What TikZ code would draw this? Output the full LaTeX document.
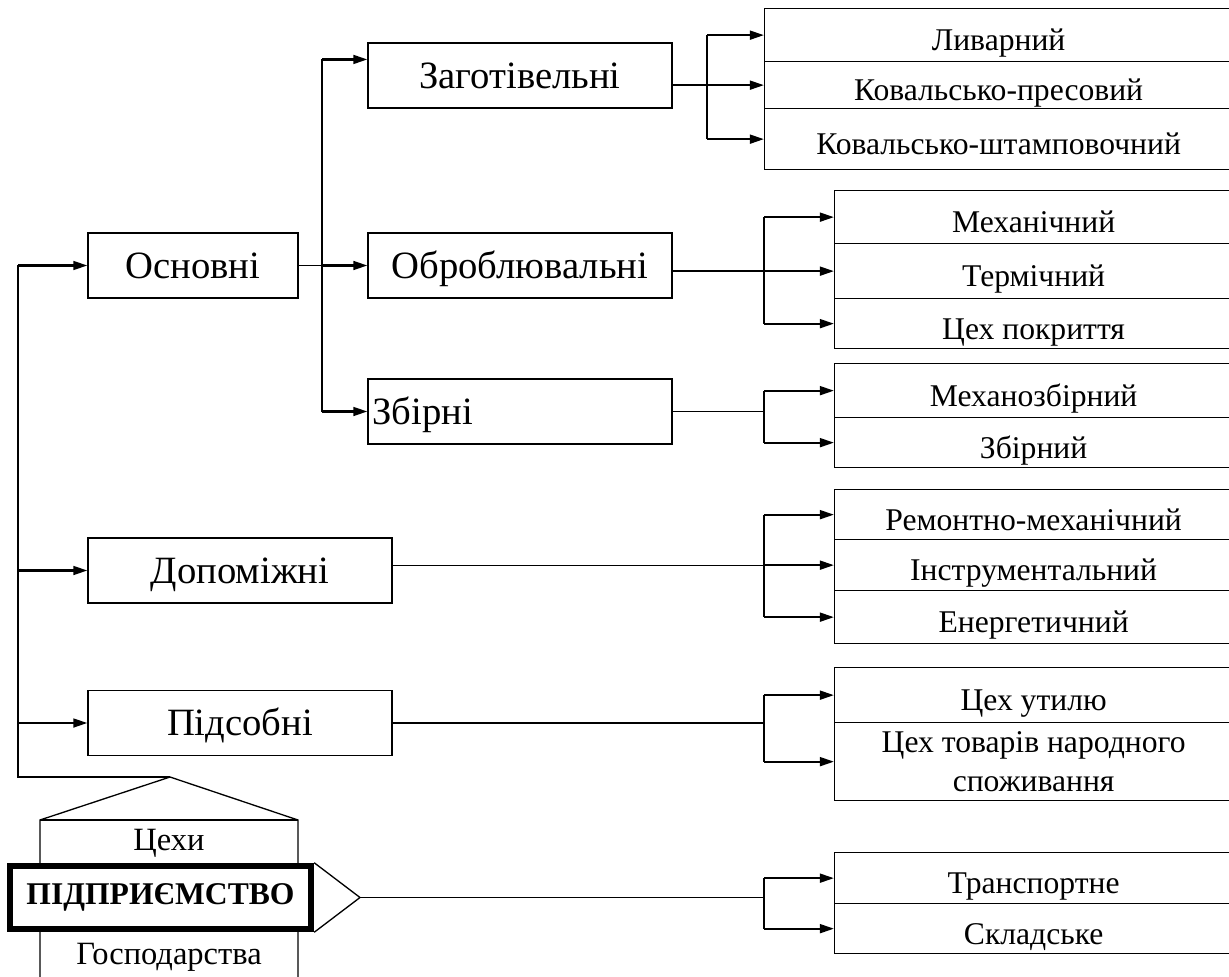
\documentclass[tikz,border=0pt]{standalone}
\usepackage{fontspec}
\setmainfont{Liberation Serif}
\usetikzlibrary{arrows.meta}

\newcommand{\bigfont}{\fontsize{22}{26}\selectfont}
\newcommand{\midfont}{\fontsize{18.5}{22}\selectfont}
\newcommand{\smallfont}{\fontsize{18}{22.5}\selectfont}

\begin{document}
\begin{tikzpicture}[x=0.02cm, y=-0.02cm,
  box/.style={draw, line width=0.75pt, minimum height=1.3cm, inner sep=0pt,
    text height=14.5pt, text depth=0pt, font=\bigfont},
  cell/.style={draw, line width=0.75pt, anchor=north west, inner sep=0pt,
    minimum width=7.96cm, align=center, font=\smallfont},
  row/.style={cell, text height=17.5pt, text depth=0pt},
  link/.style={line width=0.75pt},
  trunk/.style={line width=1.3pt},
  feed/.style={line width=1.3pt, -{Triangle[length=8pt, width=5pt]}}]
\clip (0,0) rectangle (1229,976);

% vertical lines of the branches
\coordinate (t1) at (18,0);
\coordinate (t2) at (322,0);
\coordinate (b1) at (707,0);
\coordinate (b2) at (764,0);

% kinds of shops
\node[box, minimum width=4.2cm] (osn) at (193,265.5) {Основні};
\node[box, minimum width=6.08cm] (dop) at (240,570.5) {Допоміжні};
\node[box, minimum width=6.08cm] (pid) at (240,723) {Підсобні};

\node[box, minimum width=6.08cm] (zag) at (520,75.5) {Заготівельні};
\node[box, minimum width=6.08cm] (obr) at (520,265.5) {Оброблювальні};
\node[box, minimum width=6.08cm, text width=5.9cm, align=left] (zbi) at (520,411.5) {Збірні};

% shops
\node[row, minimum width=9.36cm, minimum height=1.06cm] (c11) at (764,8) {Ливарний};
\node[row, minimum width=9.36cm, minimum height=0.94cm] (c12) at (764,61) {Ковальсько-пресовий};
\node[row, minimum width=9.36cm, minimum height=1.22cm] (c13) at (764,108) {Ковальсько-штамповочний};

\node[row, minimum height=1.06cm] (c21) at (834,190) {Механічний};
\node[row, minimum height=1.1cm] (c22) at (834,243) {Термічний};
\node[row, minimum height=1.0cm] (c23) at (834,298) {Цех покриття};

\node[row, minimum height=1.08cm] (c31) at (834,363) {Механозбірний};
\node[row, minimum height=1.0cm] (c32) at (834,417) {Збірний};

\node[row, minimum height=1.0cm] (c41) at (834,489) {Ремонтно-механічний};
\node[row, minimum height=1.02cm] (c42) at (834,539) {Інструментальний};
\node[row, minimum height=1.06cm] (c43) at (834,590) {Енергетичний};

\node[row, minimum height=1.1cm] (c51) at (834,667) {Цех утилю};
\node[cell, minimum height=1.56cm] (c52) at (834,722) {Цех товарів народного\\споживання};

\node[row, minimum height=1.02cm] (c61) at (834,852) {Транспортне};
\node[row, minimum height=1.0cm] (c62) at (834,903) {Складське};

% enterprise
\coordinate (apex) at (170,777);
\draw[link] (40,980) -- (40,820) -- (apex) -- (298,820) -- (298,980);
\draw[link] (40,820) -- (298,820);
\node[font=\midfont] (tsekh) at (169,843) {Цехи};
\node[font=\midfont] (gosp) at (169,957) {Господарства};
\node[draw, fill=white, line width=3.7pt, minimum width=6.02cm, minimum height=1.26cm,
  inner sep=0pt, font=\fontsize{18}{22}\selectfont\bfseries] (ent) at (160.5,897.5) {ПІДПРИЄМСТВО};
\coordinate (tip) at (360,897.5);
\draw[link] (ent.north east) -- (tip) -- (ent.south east);

% main trunk
\draw[trunk] (t1 |- osn.west) -- (t1 |- apex) -- (apex);
\foreach \n in {osn,dop,pid}
  \draw[feed] (t1 |- \n.west) -- (\n.west);

% basic shops
\draw[link] (osn.east) -- (t2 |- osn.east);
\draw[trunk] (t2 |- zag.174) -- (t2 |- zbi.west);
\draw[feed] (t2 |- zag.174) -- (zag.174);
\foreach \n in {obr,zbi}
  \draw[feed] (t2 |- \n.west) -- (\n.west);

% groups of shops
\draw[link] (zag.east |- c12.west) -- (b1 |- c12.west);
\draw[trunk] (b1 |- c11.west) -- (b1 |- c13.west);
\foreach \c in {c11,c12,c13}
  \draw[feed] (b1 |- \c.west) -- (\c.west);

\draw[link] (obr.east |- c22.west) -- (b2 |- c22.west);
\draw[trunk] (b2 |- c21.west) -- (b2 |- c23.west);
\foreach \c in {c21,c22,c23}
  \draw[feed] (b2 |- \c.west) -- (\c.west);

\draw[link] (zbi.east) -- (b2 |- zbi.east);
\draw[trunk] (b2 |- c31.west) -- (b2 |- c32.west);
\foreach \c in {c31,c32}
  \draw[feed] (b2 |- \c.west) -- (\c.west);

\draw[link] (dop.east |- c42.west) -- (b2 |- c42.west);
\draw[trunk] (b2 |- c41.west) -- (b2 |- c43.west);
\foreach \c in {c41,c42,c43}
  \draw[feed] (b2 |- \c.west) -- (\c.west);

\draw[link] (pid.east) -- (b2 |- pid.east);
\draw[trunk] (b2 |- c51.west) -- (b2 |- c52.west);
\foreach \c in {c51,c52}
  \draw[feed] (b2 |- \c.west) -- (\c.west);

\draw[link] (tip) -- (b2 |- tip);
\draw[trunk] (b2 |- c61.west) -- (b2 |- c62.west);
\foreach \c in {c61,c62}
  \draw[feed] (b2 |- \c.west) -- (\c.west);
\end{tikzpicture}
\end{document}
